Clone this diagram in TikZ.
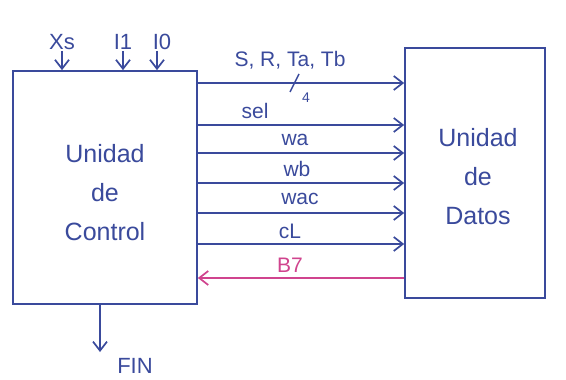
\documentclass[tikz,border=0pt]{standalone}
\usepackage{fontspec}
\setmainfont{Liberation Sans}
\usetikzlibrary{arrows.meta}
\definecolor{ink}{HTML}{3A4A9C}
\definecolor{pinkink}{HTML}{D0448E}
\tikzset{
  every picture/.style={x=1pt,y=-1pt},
  wire/.style={draw=ink,line width=1.7pt,-{Straight Barb[length=9pt,width=14pt,line width=1.7pt]}},
  retwire/.style={draw=pinkink,line width=1.7pt,-{Straight Barb[length=9pt,width=14pt,line width=1.7pt]}},
  blockbox/.style={draw=ink,line width=1.7pt,inner sep=0pt,text=ink,font=\fontsize{25}{39}\selectfont,align=center},
  sig/.style={text=ink,font=\fontsize{21}{21}\selectfont,inner sep=1pt},
  io/.style={text=ink,font=\fontsize{22}{22}\selectfont,inner sep=1pt}
}
\begin{document}
\begin{tikzpicture}
\useasboundingbox[fill=white] (0,0) rectangle (566,380);
% blocks
\node[blockbox,minimum width=184pt,minimum height=233pt] (ctrl) at (105,187.5) {};
\node[text=ink,font=\fontsize{25}{39}\selectfont,align=center] (ctrltext) at (105,193) {Unidad\\de\\Control};
\node[blockbox,minimum width=140pt,minimum height=250pt] (data) at (475,173) {};
\node[text=ink,font=\fontsize{25}{39}\selectfont,align=center] (datatext) at (478,177) {Unidad\\de\\Datos};
% inputs
\node[io] (xs) at (62,42) {Xs};
\node[io] (i1) at (123,42) {I1};
\node[io] (i0) at (162,42) {I0};
\draw[wire] (xs.south) -- (xs.south |- ctrl.north);
\draw[wire] (i1.south) -- (i1.south |- ctrl.north);
\draw[wire] (i0.south -| 157,0) -- (157,0 |- ctrl.north);
% output
\coordinate (finstart) at (100,304);
\node[io] (fin) at (135,366) {FIN};
\draw[wire] (finstart) -- (100,352);
% control signals
\draw[wire] (ctrl.east |- 0,83) -- (data.west |- 0,83);
\node[sig] (l1) at (290,60) {S, R, Ta, Tb};
\draw[draw=ink,line width=1.4pt] (290,92) -- (299,74);
\node[sig,font=\fontsize{14}{14}\selectfont] (n4) at (306,98) {4};
\draw[wire] (ctrl.east |- 0,125) -- (data.west |- 0,125);
\node[sig] (l2) at (255,111) {sel};
\draw[wire] (ctrl.east |- 0,153) -- (data.west |- 0,153);
\node[sig] (l3) at (295,140) {wa};
\draw[wire] (ctrl.east |- 0,183) -- (data.west |- 0,183);
\node[sig] (l4) at (297,169) {wb};
\draw[wire] (ctrl.east |- 0,213) -- (data.west |- 0,213);
\node[sig] (l5) at (300,199) {wac};
\draw[wire] (ctrl.east |- 0,244) -- (data.west |- 0,244);
\node[sig] (l6) at (290,231) {cL};
\draw[retwire] (data.west |- 0,278) -- (ctrl.east |- 0,278);
\node[sig,text=pinkink] (l7) at (290,265) {B7};
\end{tikzpicture}
\end{document}
